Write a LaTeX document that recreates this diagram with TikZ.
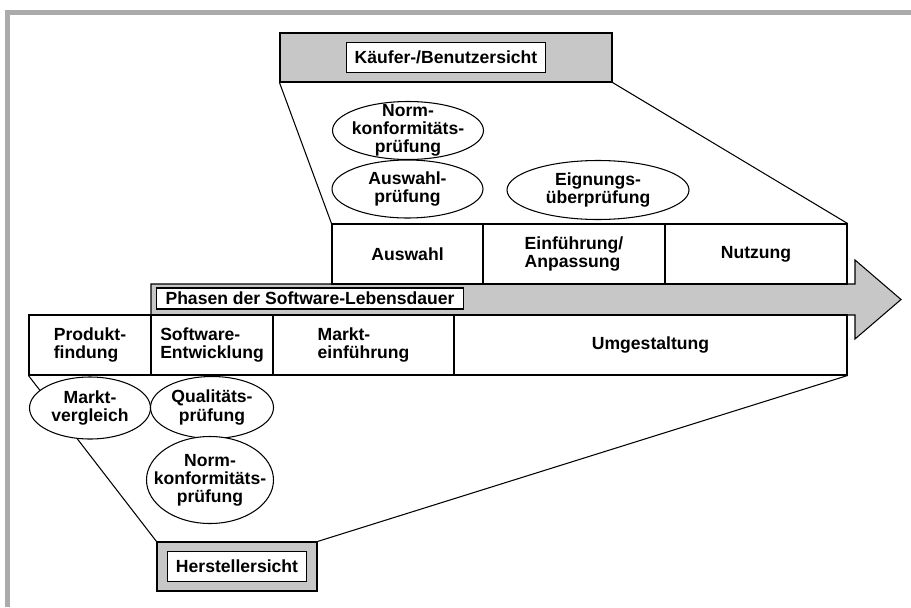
\documentclass[tikz,border=0pt]{standalone}
\usepackage{fontspec}
\setmainfont{Liberation Sans}
\usetikzlibrary{shapes.geometric}

\begin{document}
\begin{tikzpicture}[line width=0.6pt,
  every node/.style={font=\fontsize{10}{10.3}\selectfont\bfseries},
  phase/.style={draw, fill=white, inner sep=0pt, minimum height=1.2cm, align=left},
  sicht/.style={draw, fill=black!22, inner sep=0pt, minimum height=0.98cm},
  tag/.style={draw, fill=white, inner xsep=0.17cm, inner ysep=0pt, minimum height=0.6cm},
  pruef/.style={ellipse, draw, fill=white, inner sep=0pt},
  txt/.style={align=center, inner sep=0pt}]
\useasboundingbox (0,0) rectangle (18.22,12.14);
\draw[black!33, line width=0.1cm] (0.15,0) -- (0.15,11.89) -- (18.22,11.89);
% life cycle arrow
\draw[fill=black!22] (3.02,5.84) -- (17.10,5.84) -- (17.10,5.36) -- (18.02,6.15) -- (17.10,6.94) -- (17.10,6.46) -- (3.02,6.46) -- cycle;
\node[tag, minimum height=0.42cm, inner xsep=0.18cm, anchor=west] (phasen) at (3.12,6.17) {Phasen der Software-Lebensdauer};
% buyer phases
\node[phase, minimum width=3.02cm] (auswahl) at (8.15,7.06) {Auswahl};
\node[phase, minimum width=3.64cm] (einf) at (11.48,7.06) {Einführung/\\Anpassung};
\node[phase, minimum width=3.64cm] (nutzung) at (15.12,7.06) {Nutzung};
% producer phases
\node[phase, minimum width=2.44cm] (produkt) at (1.80,5.24) {Produkt-\\findung};
\node[phase, minimum width=2.44cm] (software) at (4.24,5.24) {Software-\\Entwicklung};
\node[phase, minimum width=3.62cm] (markt) at (7.27,5.24) {Markt-\\einführung};
\node[phase, minimum width=7.86cm] (umgest) at (13.01,5.24) {Umgestaltung};
% views
\node[sicht, minimum width=6.64cm] (kaeufer) at (8.92,10.99) {};
\node[tag] (kaeuferTag) at (kaeufer) {Käufer-/Benutzersicht};
\node[sicht, minimum width=3.2cm] (hersteller) at (4.74,0.81) {};
\node[tag] (herstellerTag) at (hersteller) {Herstellersicht};
\draw (kaeufer.south west) -- (auswahl.north west);
\draw (kaeufer.south east) -- (nutzung.north east);
\draw (produkt.south west) -- (hersteller.north west);
\draw (umgest.south east) -- (hersteller.north east);
% checks
\node[pruef, minimum width=3.02cm, minimum height=1.16cm] (normK) at (8.16,9.53) {};
\node[txt] at (normK) {Norm-\\konformitäts-\\prüfung};
\node[pruef, minimum width=3.02cm, minimum height=1.16cm] (auswahlP) at (8.15,8.36) {};
\node[txt] at (auswahlP) {Auswahl-\\prüfung};
\node[pruef, minimum width=3.64cm, minimum height=1.18cm] (eignung) at (11.96,8.34) {};
\node[txt] at (eignung) {Eignungs-\\überprüfung};
\node[pruef, minimum width=2.42cm, minimum height=1.24cm] (marktV) at (1.80,3.98) {};
\node[txt] at (marktV) {Markt-\\vergleich};
\node[pruef, minimum width=2.46cm, minimum height=1.24cm] (qualitaet) at (4.24,3.99) {};
\node[txt] at (qualitaet) {Qualitäts-\\prüfung};
\node[pruef, minimum width=2.54cm, minimum height=1.74cm] (normH) at (4.20,2.54) {};
\node[txt] at (normH) {Norm-\\konformitäts-\\prüfung};
\end{tikzpicture}
\end{document}
